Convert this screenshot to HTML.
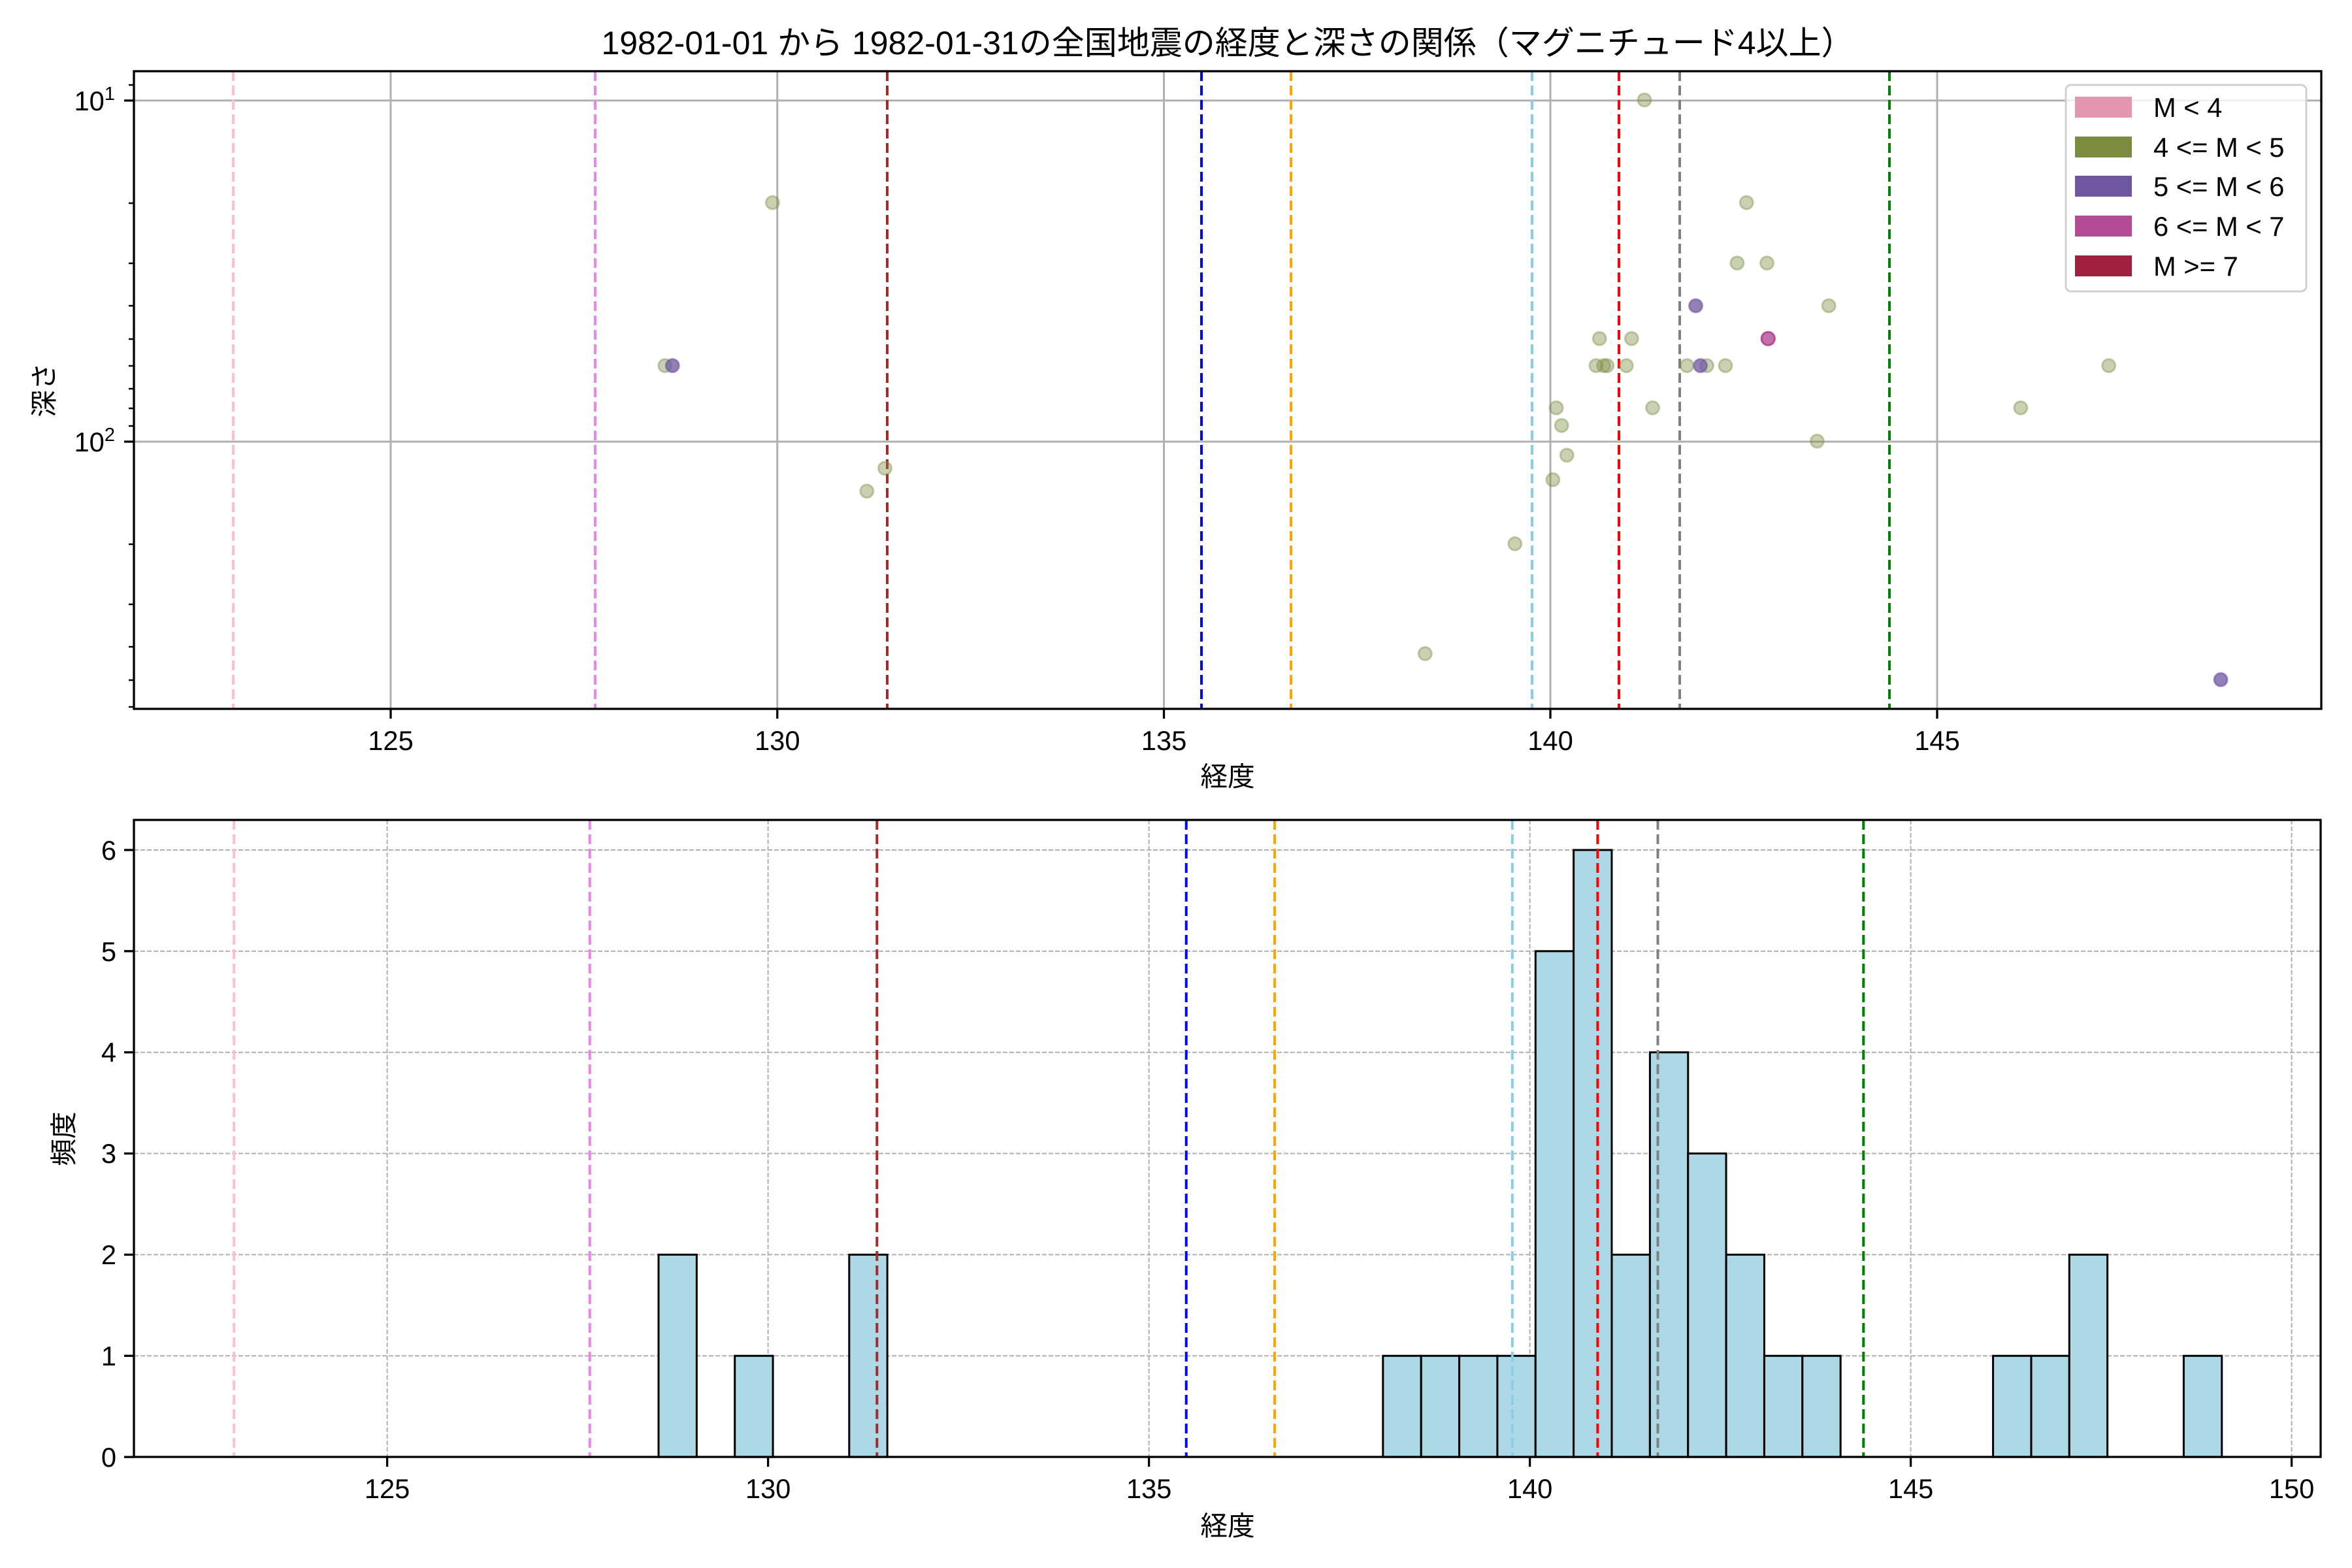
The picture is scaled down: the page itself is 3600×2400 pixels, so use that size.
<!DOCTYPE html>
<html><head><meta charset="utf-8"><style>
html,body{margin:0;padding:0;background:#fff;}
svg{display:block;font-family:"Liberation Sans","Noto Sans CJK JP",sans-serif;}
</style></head><body>
<svg width="3600" height="2400" viewBox="0 0 3600 2400" xmlns="http://www.w3.org/2000/svg">
<rect width="3600" height="2400" fill="#fff"/>
<text x="1879" y="83" font-size="50" text-anchor="middle">1982-01-01 から 1982-01-31の全国地震の経度と深さの関係（マグニチュード4以上）</text>

<!-- TOP PLOT -->
<g stroke="#b0b0b0" stroke-width="3">
<line x1="598" y1="109" x2="598" y2="1085"/><line x1="1189.75" y1="109" x2="1189.75" y2="1085"/>
<line x1="1781.5" y1="109" x2="1781.5" y2="1085"/><line x1="2373" y1="109" x2="2373" y2="1085"/>
<line x1="2965" y1="109" x2="2965" y2="1085"/>
<line x1="205" y1="153.9" x2="3553" y2="153.9"/><line x1="205" y1="676" x2="3553" y2="676"/>
</g>
<g stroke-width="4" stroke-dasharray="15,7" fill="none">
<line x1="357" y1="109" x2="357" y2="1085" stroke="#ffc0cb"/>
<line x1="911" y1="109" x2="911" y2="1085" stroke="#ee82ee"/>
<line x1="1358" y1="109" x2="1358" y2="1085" stroke="#a52a2a"/>
<line x1="1839" y1="109" x2="1839" y2="1085" stroke="#0000ff"/>
<line x1="1976" y1="109" x2="1976" y2="1085" stroke="#ffa500"/>
<line x1="2345" y1="109" x2="2345" y2="1085" stroke="#87ceeb"/>
<line x1="2478" y1="109" x2="2478" y2="1085" stroke="#ff0000"/>
<line x1="2571" y1="109" x2="2571" y2="1085" stroke="#808080"/>
<line x1="2892" y1="109" x2="2892" y2="1085" stroke="#008000"/>
</g>
<g fill="#7b8c40" fill-opacity="0.4" stroke="#7b8c40" stroke-opacity="0.4" stroke-width="3">
<circle cx="1017.8" cy="559.6" r="10"/>
<circle cx="1182.4" cy="310.1" r="10"/>
<circle cx="1354.5" cy="716.7" r="10"/>
<circle cx="1326.8" cy="751.8" r="10"/>
<circle cx="2181.3" cy="1000.5" r="10"/>
<circle cx="2318.8" cy="832.3" r="10"/>
<circle cx="2376.8" cy="734.2" r="10"/>
<circle cx="2382.1" cy="624.2" r="10"/>
<circle cx="2390.2" cy="651.3" r="10"/>
<circle cx="2398.2" cy="696.7" r="10"/>
<circle cx="2517" cy="153" r="10"/>
<circle cx="2448.2" cy="518.2" r="10"/>
<circle cx="2497.3" cy="518.2" r="10"/>
<circle cx="2442.9" cy="559.6" r="10"/>
<circle cx="2454.5" cy="559.6" r="10"/>
<circle cx="2459.8" cy="559.6" r="10"/>
<circle cx="2489.3" cy="559.6" r="10"/>
<circle cx="2529.5" cy="624.2" r="10"/>
<circle cx="2582.1" cy="559.6" r="10"/>
<circle cx="2612.5" cy="559.6" r="10"/>
<circle cx="2641" cy="559.6" r="10"/>
<circle cx="2658.9" cy="402.6" r="10"/>
<circle cx="2673.2" cy="310.1" r="10"/>
<circle cx="2704.5" cy="402.6" r="10"/>
<circle cx="2781.3" cy="675.2" r="10"/>
<circle cx="2799.1" cy="468" r="10"/>
<circle cx="3092.9" cy="624.2" r="10"/>
<circle cx="3227.7" cy="559.6" r="10"/>
</g>
<g fill="#6f56a0" fill-opacity="0.75" stroke="#6f56a0" stroke-opacity="0.6" stroke-width="3">
<circle cx="1029.3" cy="559.6" r="10"/>
<circle cx="2595.5" cy="468" r="10"/>
<circle cx="2602.7" cy="559.6" r="10"/>
<circle cx="3399.1" cy="1040.3" r="10"/>
</g>
<circle cx="2706.3" cy="518.2" r="10" fill="#b44b95" fill-opacity="0.8" stroke="#b44b95" stroke-width="3"/>
<!-- legend -->
<rect x="3162" y="130" width="368" height="316" rx="8" fill="#fff" fill-opacity="0.8" stroke="#d0d0d0" stroke-width="3"/>
<rect x="3176" y="148" width="87" height="32" fill="#e496b0"/>
<rect x="3176" y="209" width="87" height="32" fill="#7b8c40"/>
<rect x="3176" y="269" width="87" height="32" fill="#6f56a0"/>
<rect x="3176" y="330" width="87" height="32" fill="#b44b95"/>
<rect x="3176" y="391" width="87" height="32" fill="#a02040"/>
<g font-size="41.7">
<text x="3296" y="179">M &lt; 4</text>
<text x="3296" y="240">4 &lt;= M &lt; 5</text>
<text x="3296" y="300">5 &lt;= M &lt; 6</text>
<text x="3296" y="361">6 &lt;= M &lt; 7</text>
<text x="3296" y="422">M &gt;= 7</text>
</g>
<rect x="205" y="109" width="3348" height="976" fill="none" stroke="#000" stroke-width="3.3"/>
<g stroke="#000" stroke-width="3.3">
<line x1="598" y1="1085" x2="598" y2="1100"/><line x1="1189.75" y1="1085" x2="1189.75" y2="1100"/>
<line x1="1781.5" y1="1085" x2="1781.5" y2="1100"/><line x1="2373" y1="1085" x2="2373" y2="1100"/>
<line x1="2965" y1="1085" x2="2965" y2="1100"/>
<line x1="190" y1="153.9" x2="205" y2="153.9"/><line x1="190" y1="676" x2="205" y2="676"/>
</g>
<g stroke="#000" stroke-width="2.5">
<line x1="197" y1="130" x2="205" y2="130"/>
<line x1="197" y1="311" x2="205" y2="311"/><line x1="197" y1="403" x2="205" y2="403"/>
<line x1="197" y1="468" x2="205" y2="468"/><line x1="197" y1="519" x2="205" y2="519"/>
<line x1="197" y1="560" x2="205" y2="560"/><line x1="197" y1="595" x2="205" y2="595"/>
<line x1="197" y1="625" x2="205" y2="625"/><line x1="197" y1="652" x2="205" y2="652"/>
<line x1="197" y1="833" x2="205" y2="833"/><line x1="197" y1="925" x2="205" y2="925"/>
<line x1="197" y1="990" x2="205" y2="990"/><line x1="197" y1="1041" x2="205" y2="1041"/>
<line x1="197" y1="1082" x2="205" y2="1082"/>
</g>
<g font-size="41.7" text-anchor="middle">
<text x="598" y="1148">125</text><text x="1189.75" y="1148">130</text>
<text x="1781.5" y="1148">135</text><text x="2373" y="1148">140</text>
<text x="2965" y="1148">145</text>
<text x="1879" y="1203">経度</text>
</g>
<g font-size="41.7" text-anchor="end">
<text x="176" y="169">10<tspan font-size="29" dy="-16">1</tspan></text>
<text x="176" y="691">10<tspan font-size="29" dy="-16">2</tspan></text>
</g>
<text font-size="41.7" text-anchor="middle" transform="translate(82,597) rotate(-90)">深さ</text>

<!-- BOTTOM PLOT -->
<g stroke="#b0b0b0" stroke-width="2" stroke-dasharray="7,3">
<line x1="592.6" y1="1255" x2="592.6" y2="2230"/><line x1="1175.6" y1="1255" x2="1175.6" y2="2230"/>
<line x1="1758.6" y1="1255" x2="1758.6" y2="2230"/><line x1="2341.6" y1="1255" x2="2341.6" y2="2230"/>
<line x1="2924.6" y1="1255" x2="2924.6" y2="2230"/><line x1="3507.6" y1="1255" x2="3507.6" y2="2230"/>
<line x1="205" y1="2075.25" x2="3552" y2="2075.25"/><line x1="205" y1="1920.4" x2="3552" y2="1920.4"/>
<line x1="205" y1="1765.55" x2="3552" y2="1765.55"/><line x1="205" y1="1610.7" x2="3552" y2="1610.7"/>
<line x1="205" y1="1455.85" x2="3552" y2="1455.85"/><line x1="205" y1="1301" x2="3552" y2="1301"/>
</g>
<g fill="#add8e6" stroke="#000" stroke-width="3">
<rect x="1008" y="1920.4" width="58.36" height="309.7"/>
<rect x="1124.7" y="2075.25" width="58.36" height="154.85"/>
<rect x="1299.8" y="1920.4" width="58.36" height="309.7"/>
<rect x="2116.8" y="2075.25" width="58.36" height="154.85"/>
<rect x="2175.2" y="2075.25" width="58.36" height="154.85"/>
<rect x="2233.6" y="2075.25" width="58.36" height="154.85"/>
<rect x="2291.9" y="2075.25" width="58.36" height="154.85"/>
<rect x="2350.3" y="1455.85" width="58.36" height="774.25"/>
<rect x="2408.6" y="1301" width="58.36" height="929.1"/>
<rect x="2467.0" y="1920.4" width="58.36" height="309.7"/>
<rect x="2525.4" y="1610.7" width="58.36" height="619.4"/>
<rect x="2583.7" y="1765.55" width="58.36" height="464.55"/>
<rect x="2642.1" y="1920.4" width="58.36" height="309.7"/>
<rect x="2700.4" y="2075.25" width="58.36" height="154.85"/>
<rect x="2758.8" y="2075.25" width="58.36" height="154.85"/>
<rect x="3050.6" y="2075.25" width="58.36" height="154.85"/>
<rect x="3109.0" y="2075.25" width="58.36" height="154.85"/>
<rect x="3167.3" y="1920.4" width="58.36" height="309.7"/>
<rect x="3342.4" y="2075.25" width="58.36" height="154.85"/>
</g>
<g stroke-width="4" stroke-dasharray="15,7" fill="none">
<line x1="358.2" y1="1255" x2="358.2" y2="2230" stroke="#ffc0cb"/>
<line x1="902.8" y1="1255" x2="902.8" y2="2230" stroke="#ee82ee"/>
<line x1="1342.3" y1="1255" x2="1342.3" y2="2230" stroke="#a52a2a"/>
<line x1="1815.7" y1="1255" x2="1815.7" y2="2230" stroke="#0000ff"/>
<line x1="1951" y1="1255" x2="1951" y2="2230" stroke="#ffa500"/>
<line x1="2314.8" y1="1255" x2="2314.8" y2="2230" stroke="#87ceeb"/>
<line x1="2445.4" y1="1255" x2="2445.4" y2="2230" stroke="#ff0000"/>
<line x1="2537.5" y1="1255" x2="2537.5" y2="2230" stroke="#808080"/>
<line x1="2852.3" y1="1255" x2="2852.3" y2="2230" stroke="#008000"/>
</g>
<rect x="205" y="1255" width="3347" height="975" fill="none" stroke="#000" stroke-width="3.3"/>
<g stroke="#000" stroke-width="3.3">
<line x1="592.6" y1="2230" x2="592.6" y2="2245"/><line x1="1175.6" y1="2230" x2="1175.6" y2="2245"/>
<line x1="1758.6" y1="2230" x2="1758.6" y2="2245"/><line x1="2341.6" y1="2230" x2="2341.6" y2="2245"/>
<line x1="2924.6" y1="2230" x2="2924.6" y2="2245"/><line x1="3507.6" y1="2230" x2="3507.6" y2="2245"/>
<line x1="190" y1="2230.1" x2="205" y2="2230.1"/><line x1="190" y1="2075.25" x2="205" y2="2075.25"/>
<line x1="190" y1="1920.4" x2="205" y2="1920.4"/><line x1="190" y1="1765.55" x2="205" y2="1765.55"/>
<line x1="190" y1="1610.7" x2="205" y2="1610.7"/><line x1="190" y1="1455.85" x2="205" y2="1455.85"/>
<line x1="190" y1="1301" x2="205" y2="1301"/>
</g>
<g font-size="41.7" text-anchor="middle">
<text x="592.6" y="2293">125</text><text x="1175.6" y="2293">130</text>
<text x="1758.6" y="2293">135</text><text x="2341.6" y="2293">140</text>
<text x="2924.6" y="2293">145</text><text x="3507.6" y="2293">150</text>
<text x="1879" y="2350">経度</text>
</g>
<g font-size="41.7" text-anchor="end">
<text x="178" y="2245">0</text><text x="178" y="2090">1</text><text x="178" y="1935">2</text>
<text x="178" y="1780">3</text><text x="178" y="1625">4</text><text x="178" y="1471">5</text>
<text x="178" y="1316">6</text>
</g>
<text font-size="41.7" text-anchor="middle" transform="translate(112,1743) rotate(-90)">頻度</text>
</svg>
</body></html>
